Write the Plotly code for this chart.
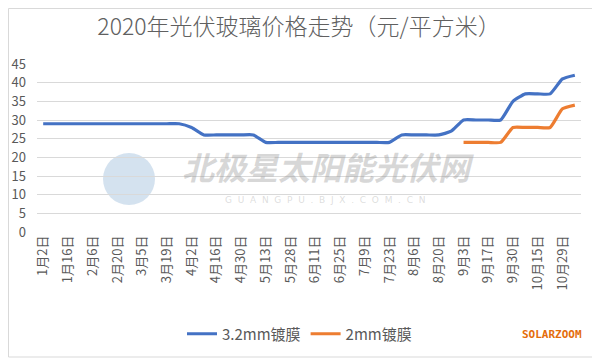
import plotly.graph_objects as go

dates = ["1月2日", "1月9日", "1月16日", "1月23日", "2月6日", "2月13日", "2月20日", "2月27日",
         "3月5日", "3月12日", "3月19日", "3月26日", "4月2日", "4月9日", "4月16日", "4月23日",
         "4月30日", "5月7日", "5月13日", "5月21日", "5月28日", "6月4日", "6月11日", "6月18日",
         "6月25日", "7月2日", "7月9日", "7月16日", "7月23日", "7月30日", "8月6日", "8月13日",
         "8月20日", "8月27日", "9月3日", "9月10日", "9月17日", "9月24日", "9月30日", "10月9日",
         "10月15日", "10月22日", "10月29日", "11月5日"]

glass_32 = [29, 29, 29, 29, 29, 29, 29, 29, 29, 29, 29, 29, 28, 26, 26, 26,
            26, 26, 24, 24, 24, 24, 24, 24, 24, 24, 24, 24, 24, 26, 26, 26,
            26, 27, 30, 30, 30, 30, 35, 37, 37, 37, 41, 42]

glass_2 = [None] * 34 + [24, 24, 24, 24, 28, 28, 28, 28, 33, 34]

tick_labels = dates[::2]

# The page body has an 8px default margin: the figure is drawn 8px right/down.
OFF = 8
W, H = 600 - OFF, 360 - OFF
PL, PR, PT, PB = 37, 581, 64, 232          # plot area in window pixels
L, R, T, B = PL - OFF, 600 - PR, PT - OFF, 360 - PB
PW, PH = PR - PL, PB - PT


def px(x):
    return (x - PL) / PW


def py(y):
    return (PB - y) / PH


fig = go.Figure()
fig.add_trace(go.Scatter(x=dates, y=glass_32, mode="lines", name="3.2mm镀膜",
                         line=dict(color="#4472C4", width=3.2, shape="spline", smoothing=0.5)))
fig.add_trace(go.Scatter(x=dates, y=glass_2, mode="lines", name="2mm镀膜",
                         line=dict(color="#ED7D31", width=3.2, shape="spline", smoothing=0.5),
                         connectgaps=False))

font_family = "Noto Sans CJK SC, Noto Sans, sans-serif"

fig.update_layout(
    width=W, height=H,
    margin=dict(l=L, r=R, t=T, b=B, autoexpand=False),
    paper_bgcolor="white", plot_bgcolor="white",
    font=dict(family=font_family, color="#595959", size=13),
    title=dict(text="2020年光伏玻璃价格走势（元/平方米）", x=(299 - OFF) / W, xanchor="center",
               xref="container", y=1 - (27 - OFF) / H, yanchor="middle",
               font=dict(size=23, color="#606060", family=font_family, weight=300)),
    showlegend=True,
    legend=dict(orientation="h", x=px(182), xanchor="left", y=py(334), yanchor="middle",
                font=dict(size=15, color="#595959"), itemwidth=30, bgcolor="rgba(0,0,0,0)",
                tracegroupgap=0),
    xaxis=dict(type="category", tickmode="array", tickvals=tick_labels, ticktext=tick_labels,
               tickangle=-90, showgrid=False, showline=False, zeroline=False, ticks="",
               automargin=False,
               tickfont=dict(size=13, color="#595959"), range=[-0.5, len(dates) - 0.5]),
    yaxis=dict(range=[0, 45], dtick=5, showgrid=True, gridcolor="#D9D9D9", gridwidth=1,
               zeroline=False, showline=False, ticks="", automargin=False,
               ticklabelstandoff=10,
               tickfont=dict(size=13, color="#595959")),
)

# watermark logo and text
fig.add_shape(type="circle", xref="paper", yref="paper",
              x0=px(103), x1=px(155), y0=py(205), y1=py(153),
              fillcolor="rgba(160,190,220,0.45)", line=dict(width=0), layer="below")
fig.add_annotation(text="<b><i>北极星太阳能光伏网</i></b>", xref="paper", yref="paper",
                   x=px(328), y=py(166), showarrow=False,
                   font=dict(size=32, color="rgba(150,150,150,0.38)", family=font_family))
fig.add_annotation(text="G  U  A  N  G  P  U  .  B  J  X  .  C  O  M  .  C  N", xref="paper", yref="paper",
                   x=px(325), y=py(193), yanchor="top", showarrow=False,
                   font=dict(size=9, color="rgba(170,170,170,0.4)", family="DejaVu Sans"))

# SOLARZOOM mark
fig.add_annotation(text="<b>SOLARZOOM</b>", xref="paper", yref="paper",
                   x=px(584), xanchor="right", y=py(334), yanchor="middle", showarrow=False,
                   font=dict(size=11, color="#E46C0A", family="DejaVu Sans Mono"))

# outer frame
fig.add_shape(type="rect", xref="paper", yref="paper",
              x0=px(OFF + 0.5), x1=px(594), y0=py(357), y1=py(OFF + 0.5),
              line=dict(color="#D9D9D9", width=1), fillcolor="rgba(0,0,0,0)", layer="below")

fig.write_html("out.html")
